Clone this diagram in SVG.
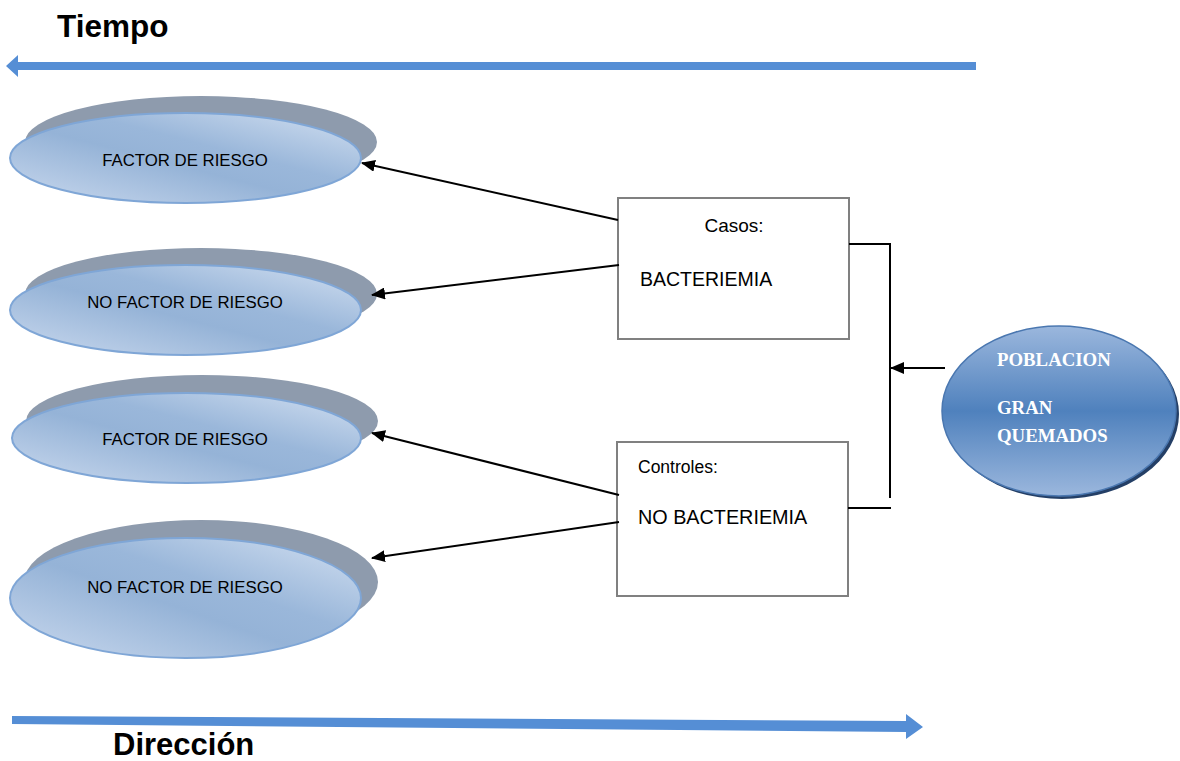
<svg xmlns="http://www.w3.org/2000/svg" width="1180" height="761" viewBox="0 0 1180 761">
<defs>
<linearGradient id="eg" x1="0" y1="1" x2="1" y2="0">
<stop offset="0" stop-color="#cad9ee"/>
<stop offset="0.45" stop-color="#95b3d7"/>
<stop offset="0.6" stop-color="#9ab7da"/>
<stop offset="1" stop-color="#d3e0f1"/>
</linearGradient>
<linearGradient id="pg" x1="0" y1="0" x2="0" y2="1">
<stop offset="0" stop-color="#9bb7dd"/>
<stop offset="0.5" stop-color="#4f81bd"/>
<stop offset="1" stop-color="#9bb7dd"/>
</linearGradient>
<marker id="ah" markerWidth="14" markerHeight="12" refX="13" refY="6" orient="auto" markerUnits="userSpaceOnUse">
<path d="M0,0 L14,6 L0,12 Z" fill="#000"/>
</marker>
<style>
.sh{fill:#8e9bad}
.el{fill:url(#eg);stroke:#7fa6d6;stroke-width:2}
.et{font-family:"Liberation Sans",Arial,sans-serif;font-size:16.8px;fill:#000;text-anchor:middle}
.bx{fill:#fff;stroke:#808080;stroke-width:2}
.bt{font-family:"Liberation Sans",Arial,sans-serif;fill:#000}
.cn{stroke:#000;stroke-width:2;fill:none}
.ttl{font-family:"Liberation Sans",Arial,sans-serif;font-weight:bold;fill:#000}
.pt{font-family:"Liberation Serif","Times New Roman",serif;font-weight:bold;font-size:18.8px;fill:#fff}
</style>
</defs>
<rect width="1180" height="761" fill="#fff"/>

<g id="tiempo">
<text class="ttl" x="57" y="37" font-size="31.5">Tiempo</text>
<path d="M976,62 L18,62 L18,55 L6,66 L18,77 L18,70 L976,70 Z" fill="#558ed5"/>
</g>

<g id="direccion">
<path d="M12,716 L906,721 L906,714 L923,727 L906,739 L906,732 L12,724 Z" fill="#558ed5"/>
<text class="ttl" x="113" y="755" font-size="31">Dirección</text>
</g>

<g id="e1">
<ellipse class="sh" cx="201" cy="142" rx="176" ry="46"/>
<ellipse class="el" cx="185.5" cy="158" rx="175.5" ry="45"/>
<text class="et" x="185" y="166">FACTOR DE RIESGO</text>
</g>

<g id="e2">
<ellipse class="sh" cx="201" cy="294" rx="176" ry="46"/>
<ellipse class="el" cx="185.5" cy="310" rx="175.5" ry="45"/>
<text class="et" x="185" y="308">NO FACTOR DE RIESGO</text>
</g>

<g id="e3">
<ellipse class="sh" cx="202" cy="421" rx="176" ry="46"/>
<ellipse class="el" cx="186.5" cy="438" rx="174.5" ry="45"/>
<text class="et" x="185" y="445">FACTOR DE RIESGO</text>
</g>

<g id="e4">
<ellipse class="sh" cx="201" cy="582" rx="177" ry="62"/>
<ellipse class="el" cx="185.5" cy="598" rx="175.5" ry="60"/>
<text class="et" x="185" y="593">NO FACTOR DE RIESGO</text>
</g>

<g id="casos">
<rect class="bx" x="618" y="198" width="231" height="141"/>
<text class="bt" x="734" y="232" font-size="19" text-anchor="middle">Casos:</text>
<text class="bt" x="640" y="286" font-size="19.5">BACTERIEMIA</text>
</g>

<g id="controles">
<rect class="bx" x="617" y="442" width="231" height="154"/>
<text class="bt" x="638" y="473" font-size="17.5">Controles:</text>
<text class="bt" x="638" y="524" font-size="19.8">NO BACTERIEMIA</text>
</g>

<g id="poblacion">
<ellipse cx="1062" cy="414" rx="117" ry="85" fill="#243f66"/>
<ellipse cx="1059" cy="411" rx="117" ry="85" fill="url(#pg)" stroke="#4a77b0" stroke-width="1.5"/>
<text class="pt" x="997" y="366">POBLACION</text>
<text class="pt" x="997" y="414">GRAN</text>
<text class="pt" x="997" y="442">QUEMADOS</text>
</g>

<g id="connectors">
<line class="cn" x1="618" y1="220" x2="362" y2="163" marker-end="url(#ah)"/>
<line class="cn" x1="619" y1="265" x2="372" y2="295" marker-end="url(#ah)"/>
<line class="cn" x1="619" y1="495" x2="372" y2="433" marker-end="url(#ah)"/>
<line class="cn" x1="619" y1="522" x2="372" y2="558" marker-end="url(#ah)"/>
<polyline class="cn" points="849,244 890,244 890,498"/>
<line class="cn" x1="848" y1="508" x2="891" y2="508"/>
<line class="cn" x1="945" y1="368" x2="891" y2="368" marker-end="url(#ah)"/>
</g>
</svg>
